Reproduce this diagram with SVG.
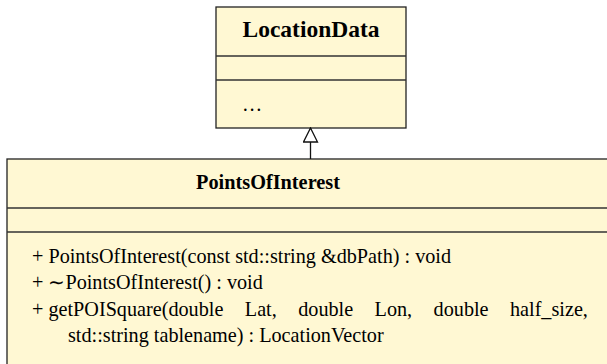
<svg xmlns="http://www.w3.org/2000/svg" width="607" height="364" viewBox="0 0 607 364">
  <style>
    .box { fill: #FFF8D3; stroke: #222222; stroke-width: 1.3; }
    .div { stroke: #333333; stroke-width: 1.3; fill: none; }
    text { font-family: 'Liberation Serif', 'Times New Roman', serif; fill: #000000; }
    .title { font-weight: bold; text-anchor: middle; }
    .member { font-size: 20.2px; }
    .justified { word-spacing: 16.4px; }
    .edge { stroke: #111111; stroke-width: 1.3; fill: none; }
  </style>
  <defs>
    <marker id="inherit" viewBox="0 0 16 16" refX="15" refY="8" markerWidth="16" markerHeight="16" markerUnits="userSpaceOnUse" orient="auto">
      <path d="M1,1 L15,8 L1,15 Z" fill="#FFFFFF" stroke="#111111" stroke-width="1.3"/>
    </marker>
  </defs>

  <rect width="607" height="364" fill="#FFFFFF"/>

  <!-- base class -->
  <g id="LocationData">
    <rect class="box" x="216" y="7" width="190" height="121"/>
    <line class="div" x1="216" y1="56" x2="406" y2="56"/>
    <line class="div" x1="216" y1="80" x2="406" y2="80"/>
    <text class="title" x="311" y="37" font-size="23.5">LocationData</text>
    <text class="member" x="242" y="111">…</text>
  </g>

  <!-- derived class (extends past the right and bottom edges) -->
  <g id="PointsOfInterest">
    <rect class="box" x="7" y="159" width="610" height="215"/>
    <line class="div" x1="7" y1="208" x2="617" y2="208"/>
    <line class="div" x1="7" y1="232" x2="617" y2="232"/>
    <text class="title" x="268" y="189" font-size="20.3">PointsOfInterest</text>
    <text class="member" x="32" y="263">+ PointsOfInterest(const std::string &amp;dbPath) : void</text>
    <text class="member" x="32" y="289">+ ∼PointsOfInterest() : void</text>
    <!-- wrapped line, spread out to the full line width -->
    <text class="member" x="32" y="316">+ <tspan class="justified">getPOISquare(double Lat, double Lon, double half_size,</tspan></text>
    <text class="member" x="68" y="342">std::string tablename) : LocationVector</text>
  </g>

  <!-- generalization -->
  <g id="connectors">
    <line class="edge" x1="310.5" y1="159" x2="310.5" y2="128" marker-end="url(#inherit)"/>
  </g>
</svg>
